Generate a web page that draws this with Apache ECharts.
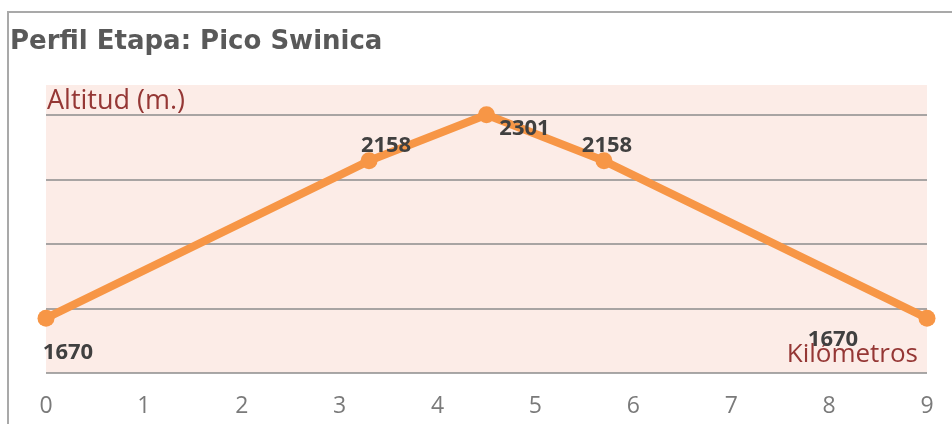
<!DOCTYPE html>
<html>
<head>
<meta charset="utf-8">
<script src="https://cdn.jsdelivr.net/npm/echarts@6/dist/echarts.min.js"></script>
<style>
  html, body { margin: 0; padding: 0; background: #fff; }
  #grafico { width: 952px; height: 424px; }
</style>
</head>
<body>
<div id="grafico"></div>
<script>
// Datos del perfil (km, altitud en m.)
const kilometros = [0, 3.3, 4.5, 5.7, 9];
const altitudes = [1670, 2158, 2301, 2158, 1670];
const etiquetasKm = [0, 1, 2, 3, 4, 5, 6, 7, 8, 9];

// donde va cada etiqueta de altitud respecto a su punto
const offsetsEtiqueta = [[22, 35], [17, -15], [38, 14], [3, -15], [-94, 22]];

const chart = echarts.init(document.getElementById('grafico'));

const datos = kilometros.map((km, i) => ({
    value: [km, altitudes[i]],
    label: { offset: offsetsEtiqueta[i] }
}));

chart.setOption({
    animation: false,
    grid: {
        left: 46, right: 25, top: 85, bottom: 51,
        show: true,
        backgroundColor: '#fcece7',
        borderWidth: 0
    },
    graphic: [
        {
            type: 'rect', silent: true,
            shape: { x: 8, y: 12, width: 970, height: 440 },
            style: { fill: 'none', stroke: '#a9a9a9', lineWidth: 2 }
        },
        {
            type: 'text', left: 10, top: 29,
            style: {
                text: 'Perfil Etapa: Pico Swinica',
                font: 'bold 26px "DejaVu Sans"',
                fill: '#595959'
            }
        },
        {
            type: 'text', left: 47, top: 88,
            style: {
                text: 'Altitud (m.)',
                font: '27px "Open Sans"',
                fill: '#953735'
            }
        },
        {
            type: 'text', right: 34, top: 342,
            style: {
                text: 'Kilómetros',
                font: '26px "Open Sans"',
                fill: '#953735'
            }
        }
    ],
    xAxis: {
        type: 'value',
        min: 0, max: 9, interval: 1,
        axisLine: { show: false },
        axisTick: { show: false },
        splitLine: { show: false },
        axisLabel: {
            margin: 22,
            color: '#7a7a7a',
            fontFamily: 'Open Sans',
            fontSize: 23,
            formatter: v => etiquetasKm.includes(v) ? String(v) : ''
        }
    },
    yAxis: {
        type: 'value',
        min: 1500, max: 2393, interval: 200,
        axisLine: { show: false },
        axisTick: { show: false },
        axisLabel: { show: false },
        splitLine: {
            show: true,
            showMaxLine: false,
            lineStyle: { color: '#8c8c8c', width: 1.5 }
        }
    },
    series: [{
        type: 'line',
        data: datos,
        symbol: 'circle',
        symbolSize: 17,
        lineStyle: { color: '#f79646', width: 8 },
        itemStyle: { color: '#f79646' },
        label: {
            show: true,
            position: 'inside',
            formatter: p => String(p.value[1]),
            color: '#404040',
            fontFamily: 'Open Sans',
            fontWeight: 'bold',
            fontSize: 22
        }
    }]
});

window.addEventListener('resize', () => chart.resize());
</script>
</body>
</html>
